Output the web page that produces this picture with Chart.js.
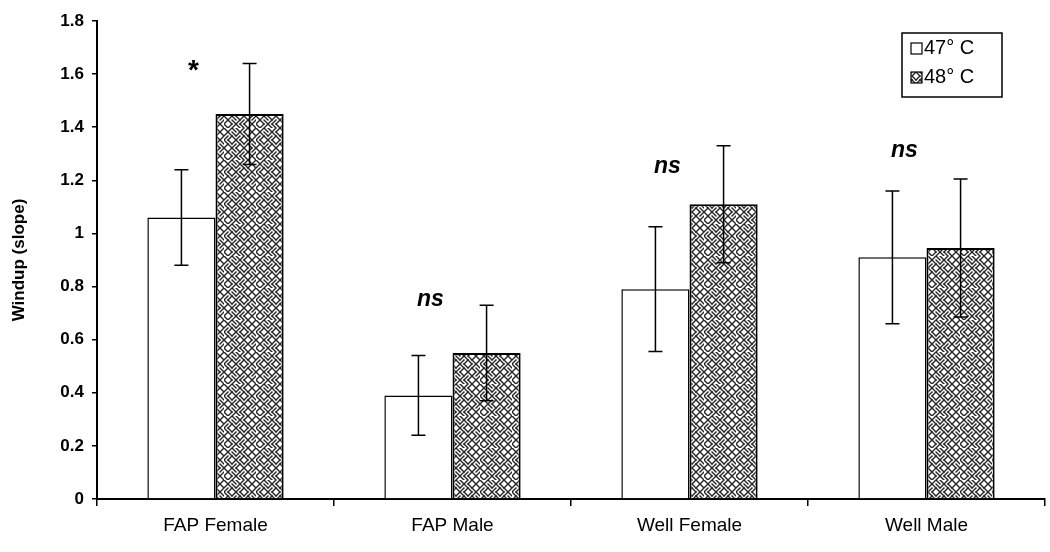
<!DOCTYPE html>
<html>
<head>
<meta charset="utf-8">
<script src="https://cdn.jsdelivr.net/npm/chart.js@4.4.1/dist/chart.umd.min.js"></script>
<style>
  html, body { margin: 0; padding: 0; background: #fff; }
  #wrap { width: 1050px; height: 552px; position: relative; }
</style>
</head>
<body>
<div id="wrap"><canvas id="c" width="1050" height="552"></canvas></div>
<script>
// ---- data ----
const categories = ['FAP Female', 'FAP Male', 'Well Female', 'Well Male'];
const seriesNames = ['47\u00B0 C', '48\u00B0 C'];
const values47 = [1.06, 0.39, 0.79, 0.91];
const values48 = [1.45, 0.55, 1.11, 0.945];
const err47 = [0.18, 0.15, 0.235, 0.25];
const err48 = [0.19, 0.18, 0.22, 0.26];
const sigLabels = ['*', 'ns', 'ns', 'ns'];
const sigY = [1.63, 0.75, 1.25, 1.31];
const yTicks = [0, 0.2, 0.4, 0.6, 0.8, 1, 1.2, 1.4, 1.6, 1.8];

// ---- maze texture for the 48 series ----
function makePattern() {
  const dirs = [
    '10110010',
    '01101101',
    '00100110',
    '11011001',
    '01001011',
    '10110100',
    '01100010',
    '10011101'
  ];
  const c = 4, n = 8, S = c * n;
  const pc = document.createElement('canvas');
  pc.width = S; pc.height = S;
  const g = pc.getContext('2d');
  g.fillStyle = '#ffffff';
  g.fillRect(0, 0, S, S);
  g.strokeStyle = '#262626';
  g.lineWidth = 1.4;
  g.lineCap = 'square';
  for (let r = 0; r < n; r++) for (let k = 0; k < n; k++) {
    const x = k * c, y = r * c;
    g.beginPath();
    if (dirs[r][k] === '1') { g.moveTo(x, y); g.lineTo(x + c, y + c); }
    else { g.moveTo(x + c, y); g.lineTo(x, y + c); }
    g.stroke();
  }
  return g.createPattern(pc, 'repeat');
}
const ctx0 = document.getElementById('c').getContext('2d');
const pattern = makePattern();

const FONT = '"Liberation Sans", Arial, sans-serif';

const errorBarPlugin = {
  id: 'errorBars',
  afterDatasetsDraw(chart) {
    const ctx = chart.ctx;
    const ys = chart.scales.y;
    const errs = [err47, err48];
    ctx.save();
    ctx.strokeStyle = '#000';
    ctx.lineWidth = 1.5;
    chart.data.datasets.forEach((ds, di) => {
      const meta = chart.getDatasetMeta(di);
      meta.data.forEach((bar, i) => {
        const v = ds.data[i], e = errs[di][i];
        const yt = ys.getPixelForValue(v + e);
        const yb = ys.getPixelForValue(v - e);
        const x = bar.x;
        ctx.beginPath();
        ctx.moveTo(x, yt); ctx.lineTo(x, yb);
        ctx.moveTo(x - 7, yt); ctx.lineTo(x + 7, yt);
        ctx.moveTo(x - 7, yb); ctx.lineTo(x + 7, yb);
        ctx.stroke();
      });
    });
    // significance labels
    const meta0 = chart.getDatasetMeta(0);
    sigLabels.forEach((lab, i) => {
      const x = meta0.data[i].x + 12;
      const y = ys.getPixelForValue(sigY[i]);
      ctx.fillStyle = '#000';
      ctx.textAlign = 'center';
      ctx.textBaseline = 'middle';
      if (lab === '*') {
        ctx.font = 'bold 28px ' + FONT;
        ctx.fillText(lab, x, y + 5);
      } else {
        ctx.font = 'italic bold 23px ' + FONT;
        ctx.fillText(lab, x, y);
      }
    });
    // legend box
    const L = 902, T = 33, W = 100, H = 64;
    ctx.lineWidth = 1.5;
    ctx.strokeStyle = '#000';
    ctx.fillStyle = '#fff';
    ctx.fillRect(L, T, W, H);
    ctx.strokeRect(L, T, W, H);
    ctx.font = '20px ' + FONT;
    ctx.textAlign = 'left';
    ctx.textBaseline = 'middle';
    const rows = [T + 15, T + 44];
    rows.forEach((ry, k) => {
      ctx.fillStyle = k === 0 ? '#fff' : pattern;
      ctx.fillRect(L + 9, ry - 5, 11, 11);
      ctx.lineWidth = 1.2;
      ctx.strokeRect(L + 9, ry - 5, 11, 11);
      ctx.fillStyle = '#000';
      ctx.fillText(seriesNames[k], L + 22, ry);
    });
    ctx.restore();
  }
};

new Chart(ctx0, {
  type: 'bar',
  data: {
    labels: categories,
    datasets: [
      { label: seriesNames[0], data: values47, backgroundColor: '#ffffff', borderColor: '#000', borderWidth: 1.5, borderSkipped: 'bottom' },
      { label: seriesNames[1], data: values48, backgroundColor: pattern, borderColor: '#000', borderWidth: 2, borderSkipped: 'bottom' }
    ]
  },
  options: {
    responsive: false,
    animation: false,
    devicePixelRatio: 1,
    layout: { padding: { top: 21, right: 5, left: 9, bottom: 0 } },
    datasets: { bar: { barPercentage: 1.0, categoryPercentage: 0.575 } },
    plugins: { legend: { display: false }, tooltip: { enabled: false } },
    scales: {
      x: {
        grid: { display: true, drawOnChartArea: false, offset: true, color: '#000', tickLength: 7, lineWidth: 1.5 },
        border: { display: true, color: '#000', width: 2 },
        ticks: { color: '#000', font: { family: FONT, size: 19 }, padding: 8 },
        afterFit(s) { s.height = 53; }
      },
      y: {
        min: 0, max: 1.8,
        afterBuildTicks(s) { s.ticks = yTicks.map(v => ({ value: v })); },
        grid: { display: true, drawOnChartArea: false, color: '#000', tickLength: 5, lineWidth: 1.5 },
        border: { display: true, color: '#000', width: 2 },
        ticks: { color: '#000', font: { family: FONT, size: 17, weight: 'bold' }, padding: 8, callback: v => String(v) },
        title: { display: true, text: 'Windup (slope)', color: '#000', font: { family: FONT, size: 17, weight: 'bold' }, padding: { top: 0, bottom: 12 } },
        afterFit(s) { s.width = 88; }
      }
    }
  },
  plugins: [errorBarPlugin]
});
</script>
</body>
</html>
